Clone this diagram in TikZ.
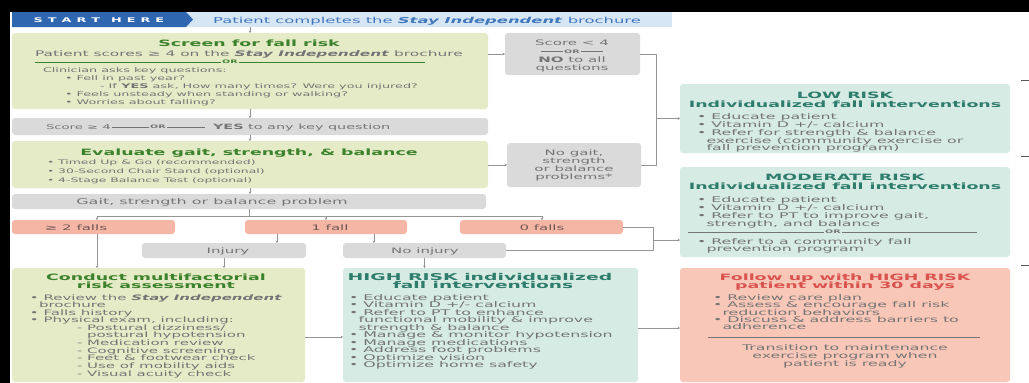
\documentclass[tikz,border=0pt]{standalone}
\usepackage{fontspec}
\setmainfont[FakeStretch=2.0]{DejaVu Sans}
\usetikzlibrary{arrows.meta}
\definecolor{bannerblue}{HTML}{2F66B0}
\definecolor{bandblue}{HTML}{D6E6F5}
\definecolor{textblue}{HTML}{4077BB}
\definecolor{greenfill}{HTML}{E5EBC7}
\definecolor{greentitle}{HTML}{3C822C}
\definecolor{grayfill}{HTML}{DADADA}
\definecolor{graytext}{HTML}{747474}
\definecolor{tealfill}{HTML}{D5EBE4}
\definecolor{tealtitle}{HTML}{2E7C6C}
\definecolor{salmon}{HTML}{F6B6A6}
\definecolor{pinkfill}{HTML}{F8C7B8}
\definecolor{redtitle}{HTML}{D9534F}
\definecolor{linegray}{HTML}{959595}
\definecolor{fallstext}{HTML}{6E5652}
\newcounter{tlc}
\newcommand\tline[4][]{\stepcounter{tlc}\node[body,#1] (tl\arabic{tlc}) at (#2,#3) {#4};}
\newcommand\mkbox[6]{\node[#1, minimum width={(#5)-(#3)}, minimum height={(#6)-(#4)}] (#2) at ({((#3)+(#5))/2},{((#4)+(#6))/2}) {};}
\newcommand\orrule[1]{\rule[2.2pt]{#1}{0.5pt}\,{\fontsize{4.8}{5}\selectfont\bfseries OR}\,\rule[2.2pt]{#1}{0.5pt}}
\newcommand\spc{\kern5pt}
\tikzset{
  conn/.style={draw=linegray, line width=0.6pt},
  arr/.style={conn, -{Stealth[length=2.4pt,width=2.8pt]}},
  bx/.style={inner sep=0, outer sep=0, rounded corners=3pt, draw=none},
  gbox/.style={bx, fill=greenfill},
  graybox/.style={bx, fill=grayfill},
  tbox/.style={bx, fill=tealfill},
  sbox/.style={bx, fill=salmon},
  pbox/.style={bx, fill=pinkfill},
  bandbox/.style={inner sep=0, outer sep=0, fill=bandblue},
  body/.style={anchor=base west, inner sep=0, outer sep=0, text=graytext, font=\fontsize{7.5}{8}\selectfont},
  smalltxt/.style={font=\fontsize{6.4}{7}\selectfont},
  evaltxt/.style={font=\fontsize{6.2}{7}\selectfont},
  righttxt/.style={font=\fontsize{7.9}{8}\selectfont},
  ctr/.style={anchor=base},
  ttl/.style={font=\fontsize{8.7}{10}\selectfont\bfseries},
  ornode/.style={inner sep=1.5pt, font=\fontsize{4.8}{5}\selectfont\bfseries},
}
\begin{document}
\begin{tikzpicture}[x=1pt,y=-1pt]
\useasboundingbox (0,0) rectangle (1029,383);
\fill[white] (0,0) rectangle (1029,383);
\fill[black] (0,0) rectangle (1029,12);
\fill[black] (0,0) rectangle (10,383);

% ---------- banner
\mkbox{bandbox}{band}{12}{12}{672}{27}
\fill[bannerblue] (12,12) -- (186,12) -- (193,19.5) -- (186,27) -- (12,27) -- cycle;
\node[anchor=base, inner sep=0, text=white, font=\fontsize{6.4}{7}\selectfont\bfseries] (starthere) at (99,22.5) {S\spc T\spc A\spc R\spc T\kern11pt H\spc E\spc R\spc E};
\tline[ctr, text=textblue, font=\fontsize{8.2}{9}\selectfont]{427}{23}{Patient completes the \textbf{\textit{Stay Independent}} brochure}

% ---------- boxes
\mkbox{gbox}{screen}{12}{33}{488}{109}
\mkbox{graybox}{score}{12}{118}{488}{135}
\mkbox{gbox}{evaluate}{12}{141}{488}{188}
\mkbox{graybox}{gait}{12}{194}{486}{209}
\mkbox{sbox}{fall2}{12}{220}{175}{234}
\mkbox{sbox}{fall1}{245}{220}{407}{234}
\mkbox{sbox}{fall0}{460}{220}{623}{234}
\mkbox{graybox}{injury}{142}{243}{306}{258}
\mkbox{graybox}{noinjury}{343}{243}{506}{258}
\mkbox{gbox}{conduct}{12}{268}{305}{382}
\mkbox{tbox}{high}{343}{268}{638}{382}
\mkbox{pbox}{follow}{680}{268}{1010}{382}
\mkbox{tbox}{low}{680}{84}{1010}{153}
\mkbox{tbox}{moderate}{680}{167}{1010}{257}
\mkbox{graybox}{score4}{505}{33}{640}{75}
\mkbox{graybox}{nogait}{507}{143}{641}{187}

% ---------- screen
\tline[ctr,ttl,text=greentitle]{249}{46.5}{Screen for fall risk}
\tline[font=\fontsize{7.7}{8}\selectfont]{35}{56.5}{Patient scores ≥ 4 on the \textbf{\textit{Stay Independent}} brochure}
\node[ornode, text=greentitle] (or1) at (230,62) {OR};
\draw[greentitle, line width=0.6pt] (35,62) -- (or1.west) (or1.east) -- (425,62);
\tline[smalltxt]{43}{72.5}{Clinician asks key questions:}
\tline[smalltxt]{65}{80.5}{• Fell in past year?}
\tline[smalltxt]{100}{88.5}{- If \textbf{YES} ask, How many times? Were you injured?}
\tline[smalltxt]{65}{96.5}{• Feels unsteady when standing or walking?}
\tline[smalltxt]{65}{104.5}{• Worries about falling?}

% ---------- score bar
\tline[font=\fontsize{6.6}{7}\selectfont]{46}{129.5}{Score ≥ 4}
\node[ornode, text=graytext] (or3) at (158,126.8) {OR};
\draw[graytext, line width=0.5pt] (112,126.8) -- (or3.west) (or3.east) -- (205,126.8);
\tline[font=\fontsize{7.2}{8}\selectfont]{213}{129.5}{\textbf{YES} to any key question}

% ---------- evaluate
\tline[ctr,ttl,text=greentitle]{249}{155}{Evaluate gait, strength, \& balance}
\tline[evaltxt]{47}{164.5}{• Timed Up \& Go (recommended)}
\tline[evaltxt]{47}{173.5}{• 30-Second Chair Stand (optional)}
\tline[evaltxt]{47}{182.5}{• 4-Stage Balance Test (optional)}

% ---------- gait bar
\tline[ctr,font=\fontsize{8}{8}\selectfont]{212}{204}{Gait, strength or balance problem}

% ---------- falls
\tline[ctr,text=fallstext]{76}{230}{≥ 2 falls}
\tline[ctr,text=fallstext]{330}{230}{1 fall}
\tline[ctr,text=fallstext]{542}{230}{0 falls}
\tline[ctr]{228}{253}{Injury}
\tline[ctr]{425}{253}{No injury}

% ---------- right gray boxes
\tline[ctr]{572}{45}{Score < 4}
\tline[ctr]{572}{53.5}{\orrule{22pt}}
\tline[ctr]{572}{62.5}{\textbf{NO} to all}
\tline[ctr]{572}{70.5}{questions}
\tline[ctr]{574}{155.5}{No gait,}
\tline[ctr]{574}{163.5}{strength}
\tline[ctr]{574}{171.5}{or balance}
\tline[ctr]{574}{179.5}{problems*}

% ---------- conduct
\tline[ctr,ttl,text=greentitle]{156}{280}{Conduct multifactorial}
\tline[ctr,ttl,text=greentitle]{156}{288}{risk assessment}
\tline{30}{300}{• Review the \textbf{\textit{Stay Independent}}}
\tline{39}{307.5}{brochure}
\tline{30}{315}{• Falls history}
\tline{30}{322.5}{• Physical exam, including:}
\tline{77}{330.5}{- Postural dizziness/}
\tline{87}{337.5}{postural hypotension}
\tline{77}{345.5}{- Medication review}
\tline{77}{353}{- Cognitive screening}
\tline{77}{360.5}{- Feet \& footwear check}
\tline{77}{368}{- Use of mobility aids}
\tline{77}{376.5}{- Visual acuity check}

% ---------- high risk
\tline[ctr,text=tealtitle,font=\fontsize{9.4}{10}\selectfont\bfseries]{480}{280}{HIGH RISK individualized}
\tline[ctr,text=tealtitle,font=\fontsize{9.3}{10}\selectfont\bfseries]{483}{288}{fall interventions}
\tline[righttxt]{349}{300}{• Educate patient}
\tline[righttxt]{349}{307}{• Vitamin D +/- calcium}
\tline[righttxt]{349}{315}{• Refer to PT to enhance}
\tline[righttxt]{358.5}{322.5}{functional mobility \& improve}
\tline[righttxt]{358.5}{330}{strength \& balance}
\tline[righttxt]{349}{337.5}{• Manage \& monitor hypotension}
\tline[righttxt]{349}{345}{• Manage medications}
\tline[righttxt]{349}{352.5}{• Address foot problems}
\tline[righttxt]{349}{360}{• Optimize vision}
\tline[righttxt]{349}{367.5}{• Optimize home safety}

% ---------- follow up
\tline[ctr,ttl,text=redtitle]{845}{280}{Follow up with HIGH RISK}
\tline[ctr,ttl,text=redtitle]{845}{288}{patient within 30 days}
\tline[righttxt]{713}{300}{• Review care plan}
\tline[righttxt]{713}{307.5}{• Assess \& encourage fall risk}
\tline[righttxt]{722.5}{315}{reduction behaviors}
\tline[righttxt]{713}{322}{• Discuss \& address barriers to}
\tline[righttxt]{722.5}{329.5}{adherence}
\draw[black!55, line width=0.6pt] (708,337) -- (980,337);
\tline[ctr,righttxt]{845}{350}{Transition to maintenance}
\tline[ctr,righttxt]{845}{358}{exercise program when}
\tline[ctr,righttxt]{845}{366}{patient is ready}

% ---------- low risk
\tline[ctr,ttl,text=tealtitle]{845}{98}{LOW RISK}
\tline[ctr,ttl,text=tealtitle]{845}{107.5}{Individualized fall interventions}
\tline[righttxt]{697}{119}{• Educate patient}
\tline[righttxt]{697}{127}{• Vitamin D +/- calcium}
\tline[righttxt]{697}{135}{• Refer for strength \& balance}
\tline[righttxt]{706.5}{143}{exercise (community exercise or}
\tline[righttxt]{706.5}{150.5}{fall prevention program)}

% ---------- moderate risk
\tline[ctr,ttl,text=tealtitle]{845}{180}{MODERATE RISK}
\tline[ctr,ttl,text=tealtitle]{845}{189}{Individualized fall interventions}
\tline[righttxt]{697}{202}{• Educate patient}
\tline[righttxt]{697}{210}{• Vitamin D +/- calcium}
\tline[righttxt]{697}{218.5}{• Refer to PT to improve gait,}
\tline[righttxt]{706.5}{226}{strength, and balance}
\node[ornode, text=graytext] (or2) at (833,232) {OR};
\draw[graytext, line width=0.5pt] (688,232) -- (or2.west) (or2.east) -- (977,232);
\tline[righttxt]{697}{244.5}{• Refer to a community fall}
\tline[righttxt]{706.5}{251.5}{prevention program}

% ---------- connectors
\draw[arr] (band.south -| screen.north) -- (screen.north);
\draw[arr] (screen.south) -- (score.north);
\draw[arr] (score.south) -- (evaluate.north);
\draw[arr] (evaluate.south) -- (evaluate.south |- gait.north);
\coordinate (hl) at (97,216);
\coordinate (hr) at (542,216);
\draw[conn] (gait.south) -- (gait.south |- hl);
\draw[conn] (hl) -- (hr);
\draw[arr] (hl) -- (hl |- fall2.north);
\draw[arr] (fall1.north |- hl) -- (fall1.north);
\draw[arr] (hr) -- (hr |- fall0.north);
\draw[arr] (hl |- fall2.south) -- (hl |- conduct.north);
\coordinate (xinj) at (277,0);
\coordinate (xnoinj) at (374,0);
\draw[arr] (xinj |- fall1.south) -- (xinj |- injury.north);
\draw[arr] (xnoinj |- fall1.south) -- (xnoinj |- noinjury.north);
\draw[arr] (injury.south) -- (injury.south |- conduct.north);
\draw[arr] (noinjury.south) -- (noinjury.south |- high.north);
\coordinate (ych) at (0,337);
\draw[arr] (conduct.east |- ych) -- (high.west |- ych);
\coordinate (yhf) at (0,328);
\draw[arr] (high.east |- yhf) -- (follow.west |- yhf);
\coordinate (xb1) at (653,0);
\coordinate (ymod) at (0,240);
\draw[conn] (fall0.east) -| (xb1 |- noinjury.east) -- (noinjury.east);
\draw[arr] (xb1 |- ymod) -- (moderate.west |- ymod);
\draw[arr] (score4.west -| screen.east) -- (score4.west);
\draw[arr] (nogait.west -| evaluate.east) -- (nogait.west);
\coordinate (xb2) at (656,0);
\draw[conn] (score4.east) -| (xb2 |- nogait.east) -- (nogait.east);
\draw[arr] (xb2 |- low.west) -- (low.west);

% ---------- cut-off marks at the right edge
\coordinate (e1) at (1021,80);
\coordinate (e2) at (1021,156);
\coordinate (e3) at (1021,265);
\draw[black!65, line width=0.8pt] (e1) -- ++(8,0) (e2) -- ++(8,0) (e3) -- ++(8,0);
\end{tikzpicture}
\end{document}
